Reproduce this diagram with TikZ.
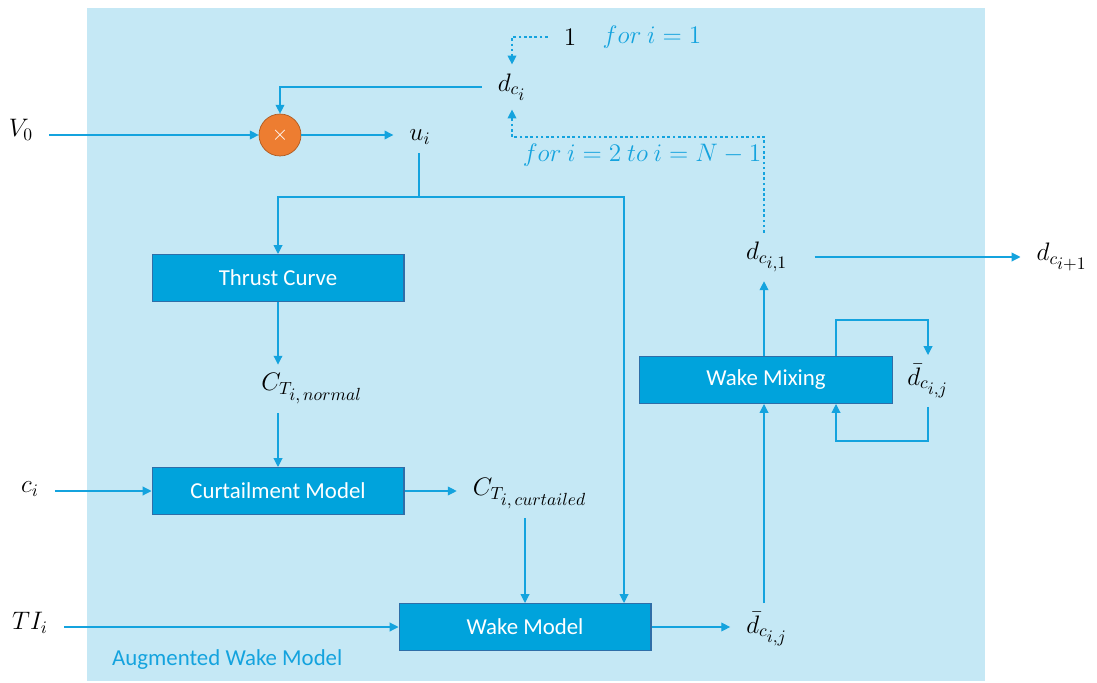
\documentclass[tikz,border=0pt]{standalone}
\usepackage{fontspec}
\setmainfont{Carlito}
\usetikzlibrary{calc, positioning, arrows.meta}
\definecolor{AWMbg}{RGB}{197, 232, 245}
\definecolor{AWMbox}{RGB}{0, 163, 220}
\definecolor{AWMedge}{RGB}{47, 110, 168}
\definecolor{AWMline}{RGB}{20, 163, 222}
\definecolor{AWMorange}{RGB}{237, 125, 49}
\definecolor{AWMdorange}{RGB}{174, 90, 33}
\tikzset{
	block/.style={shape=rectangle, draw=AWMedge, line width=0.6pt, fill=AWMbox, text=white, minimum height=0.94cm},
	lbl/.style={draw=none, fill=none, inner xsep=9pt, inner ysep=5pt, font=\fontsize{14.4}{17}\selectfont},
	flow/.style={AWMline, line width=0.6pt, -{Triangle[length=5pt, width=5pt]}},
	plain/.style={AWMline, line width=0.6pt},
	flowdash/.style={AWMline, line width=0.6pt, dash pattern=on 1.5pt off 1.5pt, -{Triangle[length=5pt, width=5pt]}}
}
\begin{document}
\begin{tikzpicture}[x=0.02cm, y=-0.02cm, font=\fontsize{13}{15}\selectfont]
		\useasboundingbox (0,0) rectangle (1097,682);
		% background
		\fill[AWMbg] (87,8) rectangle (985,681);
		\node[AWMline, anchor=west] (title) at (106,660) {Augmented Wake Model};

		% inputs
		\node[lbl] (V0) at (21,130) {$V_0$};
		\node[lbl] (ci) at (30,489) {$c_i$};
		\node[lbl] (TI) at (30,623) {$TI_i$};

		% product
		\node[shape=circle, draw=AWMdorange, fill=AWMorange, minimum size=0.84cm, inner sep=0pt, text=white] (mult) at (280,135) {$\times$};
		\node[lbl] (ui) at (420,137) {$u_i$};
		\node[lbl] (dci) at (512,87) {$d_{c_{\scriptstyle i}}$};
		\node[lbl] (one) at (570,37) {$1$};
		\node[lbl, AWMline] (f1) at (652,37) {$for\ i=1$};
		\node[lbl, AWMline] (f2) at (642,155) {$for\ i=2\ to\ i=N-1$};

		% blocks
		\node[block, minimum width=5.04cm] (thrust) at (278,278) {Thrust Curve};
		\node[lbl] (CTn) at (312,389) {$C_{T_{\scriptstyle i,\,normal}}$};
		\node[block, minimum width=5.04cm] (curt) at (278,491) {Curtailment Model};
		\node[lbl] (CTc) at (530,494) {$C_{T_{\scriptstyle i,\,curtailed}}$};
		\node[block, minimum width=5.04cm] (wake) at (525,627) {Wake Model};
		\node[lbl] (dbar) at (767,629) {$\bar{d}_{c_{\scriptstyle i,j}}$};
		\node[block, minimum width=5.06cm] (mix) at (766,380) {Wake Mixing};
		\node[lbl] (dbarm) at (928,381) {$\bar{d}_{c_{\scriptstyle i,j}}$};
		\node[lbl] (dci1) at (767,257) {$d_{c_{\scriptstyle i,1}}$};
		\node[lbl] (dnext) at (1062,257) {$d_{c_{\scriptstyle i+1}}$};
		\coordinate (split) at (419,197);
		\coordinate (back) at (764,137);

		% connectors
		\draw[flow] (V0.east |- mult.west) -- (mult.west);
		\draw[flow] (mult.east) -- (ui.west |- mult.east);
		\draw[flow] (dci.west) -| (mult.north);
		\draw[flowdash] (one.west) -| (dci.north);
		\draw[flowdash] (dci1.north -| back) -- (back) -| (dci.south);
		\draw[plain] (split |- ui.south) -- (split);
		\draw[flow] (split) -| (thrust.north);
		\draw[flow] (split) -| ($(wake.north)+(99,0)$);
		\draw[flow] (thrust.south) -- (thrust.south |- CTn.north);
		\draw[flow] (curt.north |- CTn.south) -- (curt.north);
		\draw[flow] (ci.east |- curt.west) -- (curt.west);
		\draw[flow] (curt.east) -- (CTc.west |- curt.east);
		\draw[flow] (wake.north |- CTc.south) -- (wake.north);
		\draw[flow] (TI.east |- wake.west) -- (wake.west);
		\draw[flow] (wake.east) -- (dbar.west |- wake.east);
		\draw[flow] (back |- dbar.north) -- (back |- mix.south);
		\draw[flow] (back |- mix.north) -- (back |- dci1.south);
		\draw[flow] ([xshift=6pt]dci1.east) -- (dnext.west |- dci1.east);
		% mixing loop
		\draw[flow] ($(mix.north)+(70,0)$) -- ++(0,-36) -| (dbarm.north);
		\draw[flow] (dbarm.south) -- ++(0,34) -| ($(mix.south)+(70,0)$);
	\end{tikzpicture}
\end{document}
